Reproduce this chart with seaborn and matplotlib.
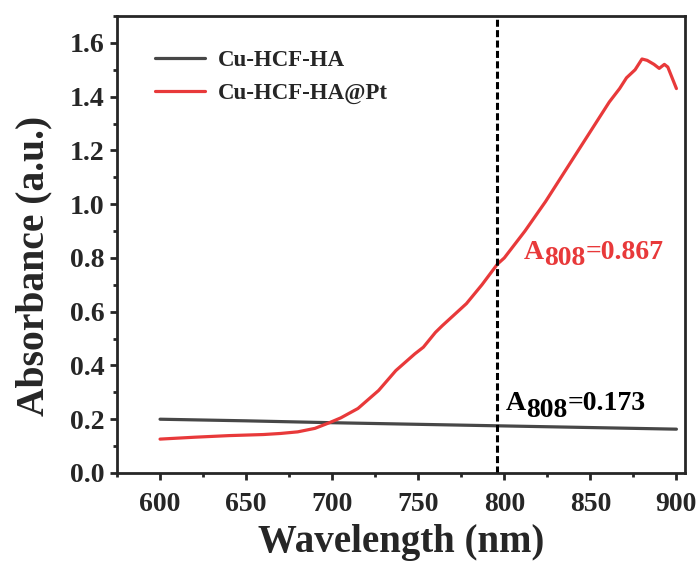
import matplotlib
matplotlib.use("Agg")
import matplotlib.pyplot as plt
import seaborn as sns
import pandas as pd
from matplotlib.ticker import MultipleLocator

# values
wl_ha = [600, 650, 700, 750, 800, 850, 900]
abs_ha = [0.200, 0.194, 0.187, 0.181, 0.175, 0.169, 0.163]

wl_pt = [600, 620, 640, 660, 670, 680, 690, 698, 705, 715, 727, 737, 748, 753,
         760, 764, 778, 787, 796, 800, 812, 824, 834, 844, 853, 861, 867, 871,
         876, 880, 883, 887, 890, 893, 895, 900]
abs_pt = [0.126, 0.133, 0.139, 0.143, 0.147, 0.153, 0.166, 0.186, 0.205, 0.240,
          0.307, 0.381, 0.443, 0.468, 0.523, 0.548, 0.630, 0.700, 0.777, 0.800,
          0.900, 1.010, 1.110, 1.210, 1.300, 1.380, 1.430, 1.470, 1.500, 1.540,
          1.535, 1.520, 1.505, 1.520, 1.510, 1.430]

labels = ["Cu-HCF-HA", "Cu-HCF-HA@Pt"]
colors = ["#474747", "#E8393A"]
marker_wl = 796
notes = [("808", "=0.173", 801, 0.233, "black"),
         ("808", "=0.867", 811.5, 0.796, "#E8393A")]

df = pd.concat([
    pd.DataFrame({"wl": wl_ha, "abs": abs_ha, "sample": labels[0]}),
    pd.DataFrame({"wl": wl_pt, "abs": abs_pt, "sample": labels[1]}),
])

sns.set_style("ticks")
plt.rcParams["font.family"] = ["Liberation Serif", "DejaVu Serif"]
plt.rcParams["font.weight"] = "bold"

fig = plt.figure(figsize=(6.99, 5.61), dpi=100)
ax = fig.add_axes([0.1674, 0.1569, 0.8126, 0.8146])

sns.lineplot(data=df, x="wl", y="abs", hue="sample", palette=colors,
             linewidth=2.3, ax=ax, sort=False)
ax.axvline(marker_wl, color="black", linewidth=2.2, linestyle=(0, (2.3, 1.1)))

ax.set_xlim(575, 905)
ax.set_ylim(0, 1.7)
ax.xaxis.set_major_locator(MultipleLocator(50))
ax.xaxis.set_minor_locator(MultipleLocator(25))
ax.yaxis.set_major_locator(MultipleLocator(0.2))
ax.yaxis.set_minor_locator(MultipleLocator(0.1))
ax.yaxis.set_major_formatter(matplotlib.ticker.FormatStrFormatter("%.1f"))

for s in ax.spines.values():
    s.set_linewidth(2.0)
    s.set_visible(True)
ax.tick_params(which="major", direction="out", length=5, width=2.0,
               labelsize=20)
ax.tick_params(axis="x", which="major", pad=9)
ax.tick_params(axis="y", which="major", pad=4)
ax.tick_params(which="minor", direction="out", length=3, width=2.0)
for lab in ax.get_xticklabels() + ax.get_yticklabels():
    lab.set_fontweight("bold")

ax.set_xlabel("Wavelength (nm)", fontsize=28, fontweight="bold", labelpad=5)
ax.set_ylabel("Absorbance (a.u.)", fontsize=28.5, fontweight="bold")
ax.yaxis.set_label_coords(-0.114, 0.453)

leg = ax.legend(loc="upper left", bbox_to_anchor=(0.067, 0.925), frameon=False,
                fontsize=16.5, handlelength=2.2, handletextpad=0.55,
                labelspacing=0.5, borderaxespad=0, borderpad=0)
for t in leg.get_texts():
    t.set_fontweight("bold")

for sub, rest, x, y, c in notes:
    t1 = ax.text(x, y, "A", fontsize=20, fontweight="bold", color=c,
                 va="baseline", ha="left")
    t2 = ax.annotate(sub, xy=(1, 0), xycoords=t1, xytext=(0, -4.5),
                     textcoords="offset points", fontsize=20,
                     fontweight="bold", color=c, va="bottom", ha="left")
    ax.annotate(rest, xy=(1, 0), xycoords=t2, xytext=(0, 4.5),
                textcoords="offset points", fontsize=20, fontweight="bold",
                color=c, va="bottom", ha="left")

fig.savefig("out.png", dpi=100)
